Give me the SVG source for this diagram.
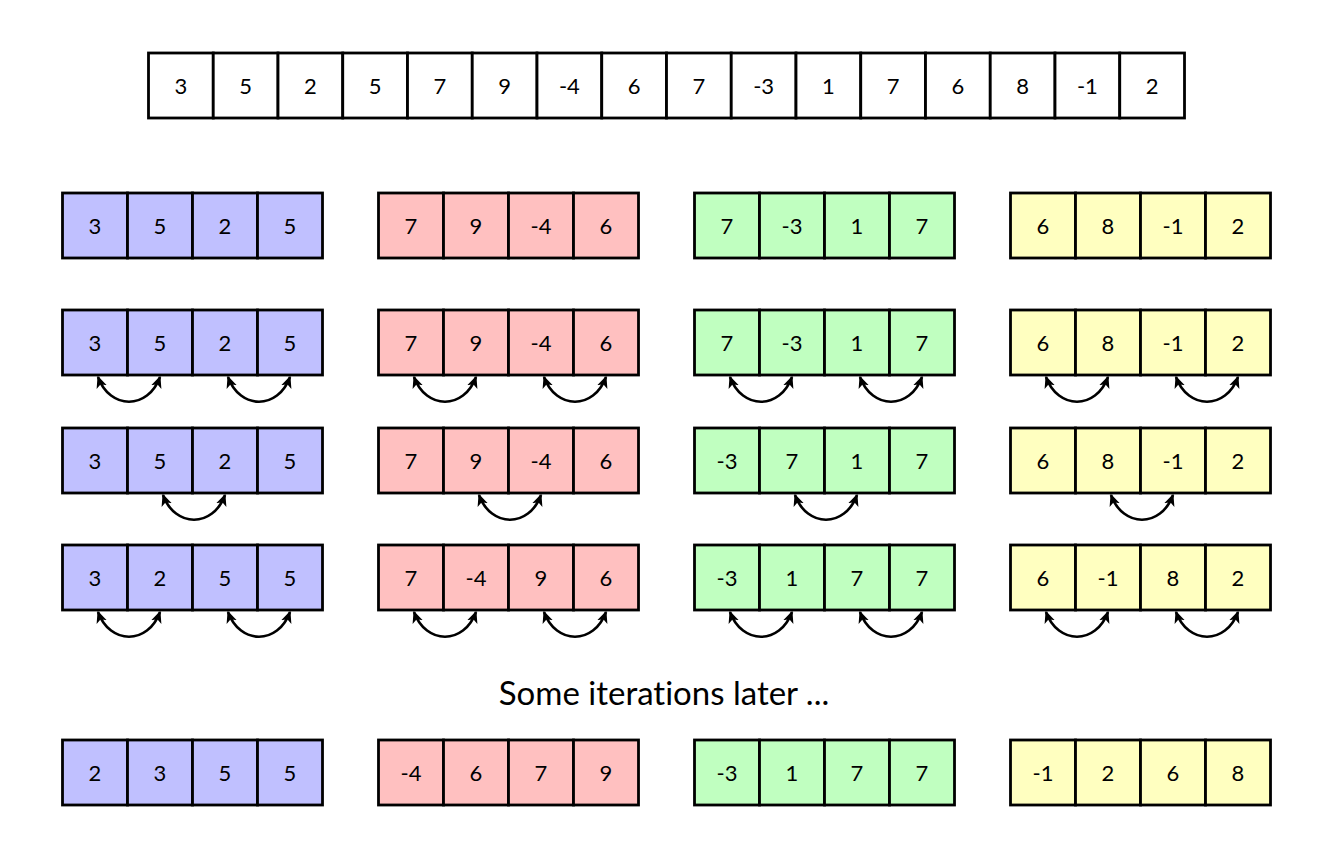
<svg xmlns="http://www.w3.org/2000/svg" width="1338" height="846" viewBox="0 0 1338 846">
<style>
rect{stroke:#000;stroke-width:2.8}
.w{fill:#fff}.b{fill:#c0c0ff}.r{fill:#ffc0c0}.g{fill:#c0ffc0}.y{fill:#ffffc0}
text{font-family:"Lato","Open Sans","DejaVu Sans",sans-serif;font-size:22px;text-anchor:middle;dominant-baseline:central;fill:#000;font-variant-ligatures:none;font-feature-settings:"liga" 0,"dlig" 0}
.t{font-size:33px}
.c path{fill:none;stroke:#000;stroke-width:2.6;marker-start:url(#ah);marker-end:url(#ah)}
</style>
<defs>
<marker id="ah" viewBox="0 0 10 10" refX="9" refY="5" markerWidth="12" markerHeight="12" markerUnits="userSpaceOnUse" orient="auto-start-reverse">
<path d="M0,0.5 L10,5 L0,9.5 L2.5,5 Z" fill="#000"/>
</marker>
</defs>
<rect width="1338" height="846" fill="#fff" style="stroke:none"/>
<g id="input">
<rect class="w" x="148.5" y="53" width="64.75" height="65"/><text x="180.9" y="85.5">3</text>
<rect class="w" x="213.25" y="53" width="64.75" height="65"/><text x="245.6" y="85.5">5</text>
<rect class="w" x="278" y="53" width="64.75" height="65"/><text x="310.4" y="85.5">2</text>
<rect class="w" x="342.75" y="53" width="64.75" height="65"/><text x="375.1" y="85.5">5</text>
<rect class="w" x="407.5" y="53" width="64.75" height="65"/><text x="439.9" y="85.5">7</text>
<rect class="w" x="472.25" y="53" width="64.75" height="65"/><text x="504.6" y="85.5">9</text>
<rect class="w" x="537" y="53" width="64.75" height="65"/><text x="569.4" y="85.5">-4</text>
<rect class="w" x="601.75" y="53" width="64.75" height="65"/><text x="634.1" y="85.5">6</text>
<rect class="w" x="666.5" y="53" width="64.75" height="65"/><text x="698.9" y="85.5">7</text>
<rect class="w" x="731.25" y="53" width="64.75" height="65"/><text x="763.6" y="85.5">-3</text>
<rect class="w" x="796" y="53" width="64.75" height="65"/><text x="828.4" y="85.5">1</text>
<rect class="w" x="860.75" y="53" width="64.75" height="65"/><text x="893.1" y="85.5">7</text>
<rect class="w" x="925.5" y="53" width="64.75" height="65"/><text x="957.9" y="85.5">6</text>
<rect class="w" x="990.25" y="53" width="64.75" height="65"/><text x="1022.6" y="85.5">8</text>
<rect class="w" x="1055" y="53" width="64.75" height="65"/><text x="1087.4" y="85.5">-1</text>
<rect class="w" x="1119.75" y="53" width="64.75" height="65"/><text x="1152.1" y="85.5">2</text>
</g>
<g id="b1"><rect class="b" x="62.5" y="193" width="65" height="65"/><rect class="b" x="127.5" y="193" width="65" height="65"/><rect class="b" x="192.5" y="193" width="65" height="65"/><rect class="b" x="257.5" y="193" width="65" height="65"/>
<text x="95" y="225.5">3</text><text x="160" y="225.5">5</text><text x="225" y="225.5">2</text><text x="290" y="225.5">5</text></g>
<g id="r1"><rect class="r" x="378.5" y="193" width="65" height="65"/><rect class="r" x="443.5" y="193" width="65" height="65"/><rect class="r" x="508.5" y="193" width="65" height="65"/><rect class="r" x="573.5" y="193" width="65" height="65"/>
<text x="411" y="225.5">7</text><text x="476" y="225.5">9</text><text x="541" y="225.5">-4</text><text x="606" y="225.5">6</text></g>
<g id="g1"><rect class="g" x="694.5" y="193" width="65" height="65"/><rect class="g" x="759.5" y="193" width="65" height="65"/><rect class="g" x="824.5" y="193" width="65" height="65"/><rect class="g" x="889.5" y="193" width="65" height="65"/>
<text x="727" y="225.5">7</text><text x="792" y="225.5">-3</text><text x="857" y="225.5">1</text><text x="922" y="225.5">7</text></g>
<g id="y1"><rect class="y" x="1010.5" y="193" width="65" height="65"/><rect class="y" x="1075.5" y="193" width="65" height="65"/><rect class="y" x="1140.5" y="193" width="65" height="65"/><rect class="y" x="1205.5" y="193" width="65" height="65"/>
<text x="1043" y="225.5">6</text><text x="1108" y="225.5">8</text><text x="1173" y="225.5">-1</text><text x="1238" y="225.5">2</text></g>
<g id="b2"><rect class="b" x="62.5" y="310" width="65" height="65"/><rect class="b" x="127.5" y="310" width="65" height="65"/><rect class="b" x="192.5" y="310" width="65" height="65"/><rect class="b" x="257.5" y="310" width="65" height="65"/>
<text x="95" y="342.5">3</text><text x="160" y="342.5">5</text><text x="225" y="342.5">2</text><text x="290" y="342.5">5</text></g>
<g id="r2"><rect class="r" x="378.5" y="310" width="65" height="65"/><rect class="r" x="443.5" y="310" width="65" height="65"/><rect class="r" x="508.5" y="310" width="65" height="65"/><rect class="r" x="573.5" y="310" width="65" height="65"/>
<text x="411" y="342.5">7</text><text x="476" y="342.5">9</text><text x="541" y="342.5">-4</text><text x="606" y="342.5">6</text></g>
<g id="g2"><rect class="g" x="694.5" y="310" width="65" height="65"/><rect class="g" x="759.5" y="310" width="65" height="65"/><rect class="g" x="824.5" y="310" width="65" height="65"/><rect class="g" x="889.5" y="310" width="65" height="65"/>
<text x="727" y="342.5">7</text><text x="792" y="342.5">-3</text><text x="857" y="342.5">1</text><text x="922" y="342.5">7</text></g>
<g id="y2"><rect class="y" x="1010.5" y="310" width="65" height="65"/><rect class="y" x="1075.5" y="310" width="65" height="65"/><rect class="y" x="1140.5" y="310" width="65" height="65"/><rect class="y" x="1205.5" y="310" width="65" height="65"/>
<text x="1043" y="342.5">6</text><text x="1108" y="342.5">8</text><text x="1173" y="342.5">-1</text><text x="1238" y="342.5">2</text></g>
<g id="b3"><rect class="b" x="62.5" y="428" width="65" height="65"/><rect class="b" x="127.5" y="428" width="65" height="65"/><rect class="b" x="192.5" y="428" width="65" height="65"/><rect class="b" x="257.5" y="428" width="65" height="65"/>
<text x="95" y="460.5">3</text><text x="160" y="460.5">5</text><text x="225" y="460.5">2</text><text x="290" y="460.5">5</text></g>
<g id="r3"><rect class="r" x="378.5" y="428" width="65" height="65"/><rect class="r" x="443.5" y="428" width="65" height="65"/><rect class="r" x="508.5" y="428" width="65" height="65"/><rect class="r" x="573.5" y="428" width="65" height="65"/>
<text x="411" y="460.5">7</text><text x="476" y="460.5">9</text><text x="541" y="460.5">-4</text><text x="606" y="460.5">6</text></g>
<g id="g3"><rect class="g" x="694.5" y="428" width="65" height="65"/><rect class="g" x="759.5" y="428" width="65" height="65"/><rect class="g" x="824.5" y="428" width="65" height="65"/><rect class="g" x="889.5" y="428" width="65" height="65"/>
<text x="727" y="460.5">-3</text><text x="792" y="460.5">7</text><text x="857" y="460.5">1</text><text x="922" y="460.5">7</text></g>
<g id="y3"><rect class="y" x="1010.5" y="428" width="65" height="65"/><rect class="y" x="1075.5" y="428" width="65" height="65"/><rect class="y" x="1140.5" y="428" width="65" height="65"/><rect class="y" x="1205.5" y="428" width="65" height="65"/>
<text x="1043" y="460.5">6</text><text x="1108" y="460.5">8</text><text x="1173" y="460.5">-1</text><text x="1238" y="460.5">2</text></g>
<g id="b4"><rect class="b" x="62.5" y="545" width="65" height="65"/><rect class="b" x="127.5" y="545" width="65" height="65"/><rect class="b" x="192.5" y="545" width="65" height="65"/><rect class="b" x="257.5" y="545" width="65" height="65"/>
<text x="95" y="577.5">3</text><text x="160" y="577.5">2</text><text x="225" y="577.5">5</text><text x="290" y="577.5">5</text></g>
<g id="r4"><rect class="r" x="378.5" y="545" width="65" height="65"/><rect class="r" x="443.5" y="545" width="65" height="65"/><rect class="r" x="508.5" y="545" width="65" height="65"/><rect class="r" x="573.5" y="545" width="65" height="65"/>
<text x="411" y="577.5">7</text><text x="476" y="577.5">-4</text><text x="541" y="577.5">9</text><text x="606" y="577.5">6</text></g>
<g id="g4"><rect class="g" x="694.5" y="545" width="65" height="65"/><rect class="g" x="759.5" y="545" width="65" height="65"/><rect class="g" x="824.5" y="545" width="65" height="65"/><rect class="g" x="889.5" y="545" width="65" height="65"/>
<text x="727" y="577.5">-3</text><text x="792" y="577.5">1</text><text x="857" y="577.5">7</text><text x="922" y="577.5">7</text></g>
<g id="y4"><rect class="y" x="1010.5" y="545" width="65" height="65"/><rect class="y" x="1075.5" y="545" width="65" height="65"/><rect class="y" x="1140.5" y="545" width="65" height="65"/><rect class="y" x="1205.5" y="545" width="65" height="65"/>
<text x="1043" y="577.5">6</text><text x="1108" y="577.5">-1</text><text x="1173" y="577.5">8</text><text x="1238" y="577.5">2</text></g>
<g id="label"><text class="t" x="664" y="692">Some iterations later ...</text></g>
<g id="b5"><rect class="b" x="62.5" y="740" width="65" height="65"/><rect class="b" x="127.5" y="740" width="65" height="65"/><rect class="b" x="192.5" y="740" width="65" height="65"/><rect class="b" x="257.5" y="740" width="65" height="65"/>
<text x="95" y="772.5">2</text><text x="160" y="772.5">3</text><text x="225" y="772.5">5</text><text x="290" y="772.5">5</text></g>
<g id="r5"><rect class="r" x="378.5" y="740" width="65" height="65"/><rect class="r" x="443.5" y="740" width="65" height="65"/><rect class="r" x="508.5" y="740" width="65" height="65"/><rect class="r" x="573.5" y="740" width="65" height="65"/>
<text x="411" y="772.5">-4</text><text x="476" y="772.5">6</text><text x="541" y="772.5">7</text><text x="606" y="772.5">9</text></g>
<g id="g5"><rect class="g" x="694.5" y="740" width="65" height="65"/><rect class="g" x="759.5" y="740" width="65" height="65"/><rect class="g" x="824.5" y="740" width="65" height="65"/><rect class="g" x="889.5" y="740" width="65" height="65"/>
<text x="727" y="772.5">-3</text><text x="792" y="772.5">1</text><text x="857" y="772.5">7</text><text x="922" y="772.5">7</text></g>
<g id="y5"><rect class="y" x="1010.5" y="740" width="65" height="65"/><rect class="y" x="1075.5" y="740" width="65" height="65"/><rect class="y" x="1140.5" y="740" width="65" height="65"/><rect class="y" x="1205.5" y="740" width="65" height="65"/>
<text x="1043" y="772.5">-1</text><text x="1108" y="772.5">2</text><text x="1173" y="772.5">6</text><text x="1238" y="772.5">8</text></g>
<g id="connectors" class="c">
<path d="M98,377 C110,410 148,410 160,377"/><path d="M228,377 C240,410 278,410 290,377"/>
<path d="M414,377 C426,410 464,410 476,377"/><path d="M544,377 C556,410 594,410 606,377"/>
<path d="M730,377 C742,410 780,410 792,377"/><path d="M860,377 C872,410 910,410 922,377"/>
<path d="M1046,377 C1058,410 1096,410 1108,377"/><path d="M1176,377 C1188,410 1226,410 1238,377"/>
<path d="M163,495 C175,528 213,528 225,495"/>
<path d="M479,495 C491,528 529,528 541,495"/>
<path d="M795,495 C807,528 845,528 857,495"/>
<path d="M1111,495 C1123,528 1161,528 1173,495"/>
<path d="M98,612 C110,645 148,645 160,612"/><path d="M228,612 C240,645 278,645 290,612"/>
<path d="M414,612 C426,645 464,645 476,612"/><path d="M544,612 C556,645 594,645 606,612"/>
<path d="M730,612 C742,645 780,645 792,612"/><path d="M860,612 C872,645 910,645 922,612"/>
<path d="M1046,612 C1058,645 1096,645 1108,612"/><path d="M1176,612 C1188,645 1226,645 1238,612"/>
</g>
</svg>
